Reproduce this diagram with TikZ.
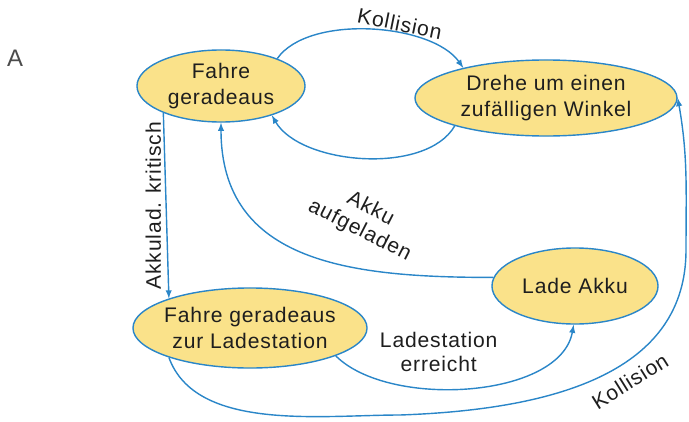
\documentclass[tikz,border=0pt]{standalone}
\usepackage{fontspec}
\setmainfont{Liberation Sans}[LetterSpace=4]
\usepackage{tikz}
\usepackage{xcolor}
\usetikzlibrary{shapes.geometric}
\definecolor{stateyellow}{RGB}{250,226,138}
\definecolor{edgeblue}{RGB}{42,134,200}
\definecolor{textgray}{RGB}{30,30,30}

\begin{document}
\begin{tikzpicture}[x=0.025cm,y=-0.025cm,
  state/.style={ellipse,draw=edgeblue,line width=1pt,fill=stateyellow,inner sep=-4pt,align=center,text=textgray,font=\fontsize{15}{18}\selectfont},
  trans/.style={draw=edgeblue,line width=1pt,-latex},
  lbl/.style={text=textgray,font=\fontsize{15}{17}\selectfont,align=center,inner sep=1pt}]
\useasboundingbox (0,0) rectangle (689,421);

\node[text=black!70,font=\fontsize{17}{20}\selectfont] (fig) at (15,58) {A};

\node[state,minimum width=4.2cm,minimum height=1.8cm] (fahre) at (221,86) {Fahre\\geradeaus};
\node[state,minimum width=6.55cm,minimum height=1.9cm] (drehe) at (546,98) {Drehe um einen\\zufälligen Winkel};
\node[state,minimum width=4.15cm,minimum height=1.9cm] (lade) at (575,286) {Lade Akku};
\node[state,minimum width=5.85cm,minimum height=2cm] (ladest) at (250,328) {Fahre geradeaus\\zur Ladestation};

\coordinate (kb) at (400,415);
\coordinate (kr) at (686,250);

\draw[trans] (fahre.26) to[out=55,in=125,looseness=0.75] node[lbl,pos=0.62,sloped,above] {Kollision} (drehe.160);
\draw[trans] (drehe.197) to[out=240,in=-60,looseness=0.8] (fahre.-30);
\draw[trans] (fahre.205) -- node[lbl,midway,rotate=90,anchor=south,inner sep=3pt] {Akkulad. kritisch} (ladest.160);
\draw[trans] (lade.174) to[out=180,in=-90,looseness=1.15] (fahre.south);
\node[lbl,rotate=-27] (aufgeladen) at (365,220) {Akku\\aufgeladen};
\draw[trans] (ladest.-18) to[out=-45,in=-100,looseness=0.8] node[lbl,pos=0.4,above=11pt] {Ladestation\\erreicht} (lade.268);
\draw[trans] (ladest.200) to[out=-70,in=180,looseness=0.85] (kb)
  to[out=2,in=-90,out distance=4cm,in distance=3cm] (kr)
  to[out=90,in=-80] (drehe.east);
\node[lbl,rotate=32] (kollision) at (630,381) {Kollision};
\end{tikzpicture}
\end{document}
